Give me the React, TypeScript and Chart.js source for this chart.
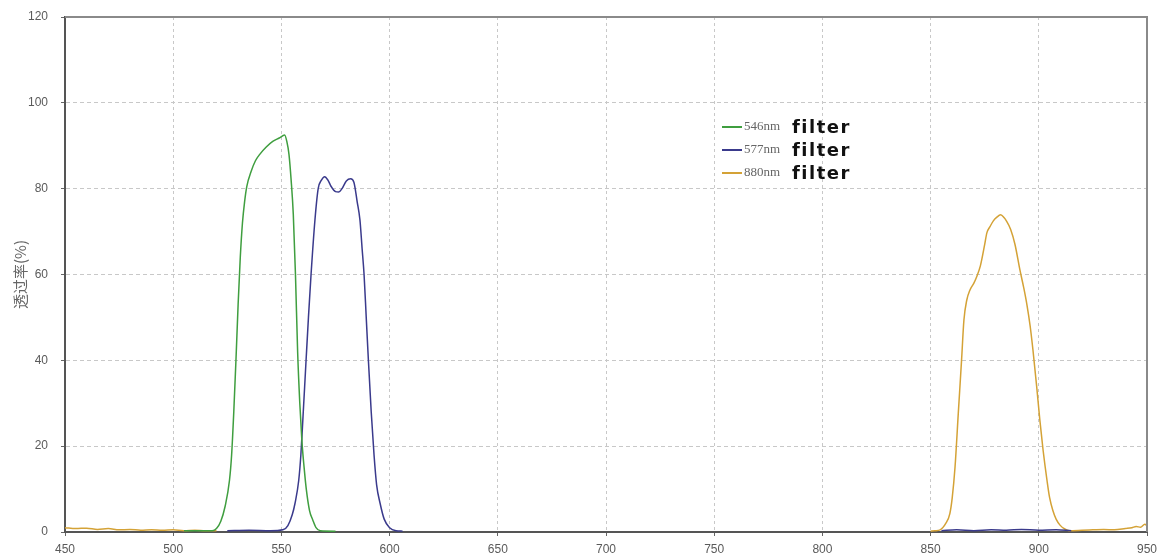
import React, { useEffect, useRef } from "react";
import { Chart, registerables } from "chart.js";

Chart.register(...registerables);

// ---- data ----
const xTicksMin = 450;
const xTicksMax = 950;
const xStep = 50;
const yMin = 0;
const yMax = 120;
const yStep = 20;

const yAxisTitle = "透过率(%)";

const legendNames = ["546nm", "577nm", "880nm"];
const legendSuffix = "filter";

// 546nm filter (green)
const greenWl = [505, 512, 518, 520, 522, 524, 526, 527, 528, 529, 530, 531, 532, 533, 534, 536, 538, 540, 543, 546, 549, 551.5, 552.5, 553.5, 554.5, 555.5, 556.5, 557.5, 558.5, 559.5, 560.5, 561.5, 563, 564.5, 566, 568, 575];
const greenVal = [0.3, 0.3, 0.3, 0.8, 2.5, 6, 12, 18, 28, 40, 53, 64, 72, 77, 80.5, 84, 86.5, 88, 89.7, 91, 91.8, 92.5, 91, 88, 82, 74, 60, 42, 30, 21, 15, 10, 5, 2.8, 1, 0.3, 0.2];

// 577nm filter (blue)
const blueWl = [525, 535, 545, 550.7, 553, 555, 556.3, 558, 559, 560, 561.4, 562.5, 563.7, 565.5, 567, 568.5, 570, 571.5, 573, 575, 576.5, 578, 580, 582, 583.5, 585, 586.3, 587.3, 588.2, 589.2, 590.2, 591.5, 592.8, 594, 595.6, 597.5, 600, 603, 606, 607, 855, 862, 870, 878, 885, 892, 900, 908, 915];
const blueVal = [0.3, 0.4, 0.3, 0.5, 1.5, 4, 6.7, 12, 18, 27, 40, 50, 60, 72.7, 80, 82, 82.8, 82, 80.5, 79.3, 79.2, 80, 81.8, 82.3, 81.5, 77, 72.7, 66, 60, 50, 40, 28, 18, 11, 6.7, 3, 1, 0.3, 0.2, null, 0.3, 0.5, 0.3, 0.5, 0.4, 0.6, 0.4, 0.5, 0.3];

// 880nm filter (orange)
const orangeWl = [450, 455, 460, 465, 470, 475, 480, 485, 490, 495, 500, 505, 510, 515, 520, 521, 850, 852, 854.4, 857, 858.9, 860, 861.3, 862.8, 864.3, 865.4, 866.7, 868.2, 870, 871.3, 873, 875, 876, 877.5, 879, 880.5, 882.4, 884, 885, 887, 889, 891.3, 893, 894.5, 896, 897.3, 899, 900.5, 902, 903.8, 905, 906.5, 908, 909.8, 912, 914, 920, 925, 930, 935, 940, 943, 945, 947, 949, 950];
const orangeVal = [1.0, 0.8, 0.9, 0.6, 0.8, 0.5, 0.6, 0.4, 0.5, 0.4, 0.5, 0.3, 0.4, 0.3, 0.3, null, 0.2, 0.3, 0.5, 2, 4.3, 8, 15.2, 27.7, 40, 49.4, 54, 56.4, 58, 59.5, 62, 67, 69.7, 71.2, 72.5, 73.3, 73.9, 73.2, 72.5, 70.5, 67, 61, 57, 53, 48, 42.4, 34, 26, 19, 12, 8, 5, 3, 1.6, 0.7, 0.3, 0.4, 0.5, 0.6, 0.5, 0.8, 1.0, 1.3, 1.1, 1.8, 1.5];

const seriesColors = ["#3f9e3f", "#3a3a8c", "#d4a236"];

const toPoints = (wl: number[], val: (number | null)[]) =>
  wl.map((x, i) => ({ x, y: val[i] }));

export default function App() {
  const ref = useRef<HTMLCanvasElement>(null);

  useEffect(() => {
    document.body.style.margin = "0";
    const canvas = ref.current;
    if (!canvas) return;

    const framePlugin = {
      id: "frame",
      afterDraw(chart: any) {
        const { ctx, chartArea } = chart;
        ctx.save();
        ctx.strokeStyle = "#8a8a8a";
        ctx.lineWidth = 2;
        ctx.beginPath();
        ctx.moveTo(chartArea.left, chartArea.top);
        ctx.lineTo(chartArea.right, chartArea.top);
        ctx.lineTo(chartArea.right, chartArea.bottom);
        ctx.stroke();
        ctx.restore();
      },
    };

    const legendPlugin = {
      id: "customLegend",
      afterDraw(chart: any) {
        const { ctx } = chart;
        const x0 = 722;
        const ys = [127, 150, 173];
        ctx.save();
        legendNames.forEach((name, i) => {
          const y = ys[i];
          ctx.strokeStyle = seriesColors[i];
          ctx.lineWidth = 2;
          ctx.beginPath();
          ctx.moveTo(x0, y);
          ctx.lineTo(x0 + 20, y);
          ctx.stroke();
          ctx.fillStyle = "#666";
          ctx.textBaseline = "middle";
          ctx.textAlign = "left";
          ctx.font = '13px "Liberation Serif"';
          (ctx as any).letterSpacing = "0px";
          ctx.fillText(name, x0 + 22, y);
          ctx.fillStyle = "#111";
          ctx.font = 'bold 18px "DejaVu Sans"';
          (ctx as any).letterSpacing = "1.5px";
          ctx.fillText(legendSuffix, x0 + 70, y + 1);
          (ctx as any).letterSpacing = "0px";
        });
        ctx.restore();
      },
    };

    const chart = new Chart(canvas, {
      type: "line",
      data: {
        datasets: [
          { label: legendNames[0], data: toPoints(greenWl, greenVal), borderColor: seriesColors[0] },
          { label: legendNames[1], data: toPoints(blueWl, blueVal), borderColor: seriesColors[1] },
          { label: legendNames[2], data: toPoints(orangeWl, orangeVal), borderColor: seriesColors[2] },
        ].map((d) => ({
          ...d,
          borderWidth: 1.5,
          pointRadius: 0,
          cubicInterpolationMode: "monotone",
          spanGaps: false,
          fill: false,
        })),
      },
      options: {
        responsive: false,
        animation: false,
        parsing: false,
        layout: { padding: { left: 0, right: 17, top: 17, bottom: 0 } },
        plugins: {
          legend: { display: false },
          tooltip: { enabled: false },
        },
        scales: {
          x: {
            type: "linear",
            min: xTicksMin,
            max: xTicksMax,
            ticks: {
              stepSize: xStep,
              color: "#5a5a5a",
              font: { family: '"Liberation Sans", Arial', size: 12 },
              padding: 6,
              maxRotation: 0,
            },
            grid: {
              color: "#c8c8c8",
              lineWidth: 1,
              tickColor: "#666",
              tickLength: 4,
            },
            border: { color: "#555", width: 2, dash: [3, 3] },
            afterFit: (s: any) => {
              s.height = 25;
              s.paddingLeft = 0;
              s.paddingRight = 0;
            },
          },
          y: {
            min: yMin,
            max: yMax,
            ticks: {
              stepSize: yStep,
              color: "#5a5a5a",
              font: { family: '"Liberation Sans", Arial', size: 12 },
              padding: 13,
            },
            grid: {
              color: "#c8c8c8",
              lineWidth: 1,
              tickColor: "#666",
              tickLength: 4,
            },
            border: { color: "#555", width: 2, dash: [4, 3] },
            title: {
              display: true,
              text: yAxisTitle,
              color: "#666",
              font: { family: '"Noto Sans CJK SC"', size: 15 },
              padding: { top: 11, bottom: 0 },
            },
            afterFit: (s: any) => {
              s.width = 65;
              s.paddingTop = 0;
              s.paddingBottom = 0;
            },
          },
        },
      },
      plugins: [framePlugin, legendPlugin],
    } as any);

    return () => chart.destroy();
  }, []);

  return (
    <div style={{ width: 1164, height: 557, background: "#fff" }}>
      <canvas ref={ref} width={1164} height={557} />
    </div>
  );
}
